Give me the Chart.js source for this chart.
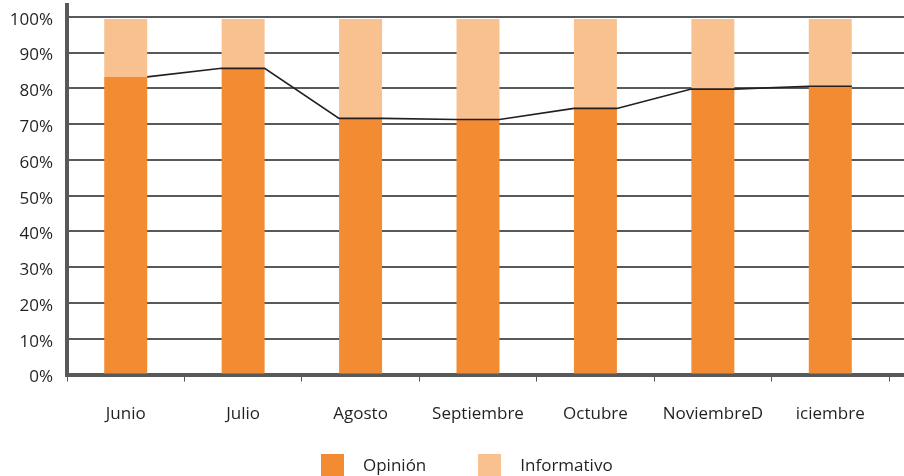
<!DOCTYPE html>
<html><head><meta charset="utf-8">
<script src="https://cdn.jsdelivr.net/npm/chart.js@4/dist/chart.umd.min.js"></script>
<style>
html,body{margin:0;padding:0;background:#fff}
#wrap{width:904px;height:476px;position:relative;overflow:hidden}
#legend{position:absolute;left:321px;top:453px;display:flex;align-items:center;font-family:"Open Sans",sans-serif;font-size:17px;color:#231F20}
.item{display:flex;align-items:center;margin-right:52px}
.sw{width:23px;height:22px;margin-right:19px}
</style>
</head><body>
<div id="wrap"><canvas id="c" width="904" height="476"></canvas><div id="legend"></div></div>
<script>
const categories = ['Junio','Julio','Agosto','Septiembre','Octubre','NoviembreD','iciembre'];
const opinion = [83.2, 85.6, 71.6, 71.3, 74.4, 79.8, 80.6];
const informativo = [16.2, 13.8, 27.8, 28.1, 25.0, 19.6, 18.8];
const yTickValues = [0, 10, 20, 30, 40, 50, 60, 70, 80, 90, 100];
const seriesNames = ['Opinión', 'Informativo'];

const GRID = '#58595B';
const TEXT = '#231F20';
const C_OP = '#F38B32';
const C_INF = '#F9C190';
const FONT = '"Open Sans", sans-serif';

const extendGrid = {
  id: 'extendGrid',
  beforeDatasetsDraw(chart) {
    const {ctx, chartArea, scales} = chart;
    ctx.save();
    ctx.strokeStyle = GRID;
    ctx.lineWidth = 2;
    yTickValues.forEach(v => {
      if (v === 0) return;
      const y = Math.round(scales.y.getPixelForValue(v));
      ctx.beginPath();
      ctx.moveTo(chartArea.right - 1, y);
      ctx.lineTo(chart.width, y);
      ctx.stroke();
    });
    ctx.lineWidth = 4;
    const yb = Math.round(chartArea.bottom);
    ctx.beginPath();
    ctx.moveTo(chartArea.right - 2, yb);
    ctx.lineTo(chart.width, yb);
    ctx.stroke();
    ctx.restore();
  }
};

const seriesLine = {
  id: 'seriesLine',
  afterDatasetsDraw(chart) {
    const meta = chart.getDatasetMeta(0);
    const ctx = chart.ctx;
    ctx.save();
    ctx.strokeStyle = '#231F20';
    ctx.lineWidth = 1.6;
    ctx.beginPath();
    meta.data.forEach((bar, i) => {
      const l = bar.x - bar.width / 2, r = bar.x + bar.width / 2;
      if (i === 0) ctx.moveTo(r, bar.y);
      else { ctx.lineTo(l, bar.y); ctx.lineTo(r, bar.y); }
    });
    ctx.stroke();
    ctx.restore();
  }
};

const chart = new Chart(document.getElementById('c'), {
  type: 'bar',
  data: {
    labels: categories,
    datasets: [
      {label: seriesNames[0], data: opinion, backgroundColor: C_OP, borderWidth: 0},
      {label: seriesNames[1], data: informativo, backgroundColor: C_INF, borderWidth: 0}
    ]
  },
  options: {
    responsive: false,
    animation: false,
    devicePixelRatio: 1,
    layout: {padding: {left: 0, right: 15, top: 5, bottom: 30}},
    datasets: {bar: {barPercentage: 0.366, categoryPercentage: 1}},
    plugins: {legend: {display: false}, tooltip: {enabled: false}},
    scales: {
      x: {
        stacked: true,
        grid: {offset: true, drawOnChartArea: false, drawTicks: true, tickLength: 7, color: GRID, lineWidth: 1},
        border: {color: GRID, width: 4},
        ticks: {color: TEXT, font: {family: FONT, size: 17}, padding: 22, maxRotation: 0}
      },
      y: {
        stacked: true,
        min: 0, max: 103.3,
        afterBuildTicks(scale) { scale.ticks = yTickValues.map(v => ({value: v})); },
        afterFit(scale) { scale.width = 67; scale.paddingTop = 0; scale.paddingBottom = 0; },
        grid: {color: GRID, lineWidth: 2, drawTicks: false},
        border: {color: GRID, width: 4},
        ticks: {color: TEXT, font: {family: FONT, size: 17}, padding: 14, labelOffset: 3,
                callback: v => v + '%'}
      }
    }
  },
  plugins: [extendGrid, seriesLine]
});

const lg = document.getElementById('legend');
chart.data.datasets.forEach(ds => {
  const it = document.createElement('div'); it.className = 'item';
  const sw = document.createElement('div'); sw.className = 'sw'; sw.style.background = ds.backgroundColor;
  const tx = document.createElement('span'); tx.textContent = ds.label;
  it.appendChild(sw); it.appendChild(tx); lg.appendChild(it);
});
</script>
</body></html>
